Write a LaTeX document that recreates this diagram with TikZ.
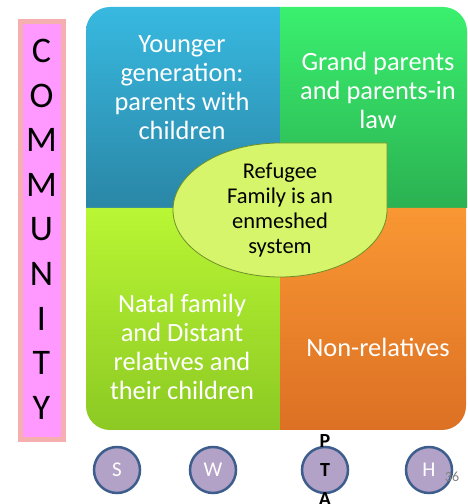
\documentclass[tikz,border=0pt]{standalone}
\usepackage{fontspec}
\setmainfont{Carlito}
\definecolor{pinkbar}{HTML}{FF99FF}
\definecolor{pinkglow}{HTML}{F6AFAF}
\definecolor{bluetop}{HTML}{38B9E0}
\definecolor{bluebot}{HTML}{2A86A6}
\definecolor{greentop}{HTML}{3AF06E}
\definecolor{greenbot}{HTML}{2BB152}
\definecolor{limetop}{HTML}{B9F634}
\definecolor{limebot}{HTML}{8CC923}
\definecolor{orangetop}{HTML}{F99733}
\definecolor{orangebot}{HTML}{DC7024}
\definecolor{tearfill}{HTML}{D6F56A}
\definecolor{teardraw}{HTML}{6E8F2A}
\definecolor{circfill}{HTML}{B3A2C7}
\definecolor{circdraw}{HTML}{3D5E8C}

\begin{document}
\begin{tikzpicture}[x=1pt, y=1pt,
  quadtext/.style={text=white, align=center, font=\fontsize{26.4}{29}\selectfont},
  teartext/.style={text=black, align=center, font=\fontsize{22.5}{25}\selectfont},
  letter/.style={text=black, font=\fontsize{36}{36}\selectfont},
  circ/.style={circle, minimum size=46, inner sep=0, fill=circfill, draw=circdraw, line width=2.5, text=white, font=\fontsize{21}{24}\selectfont}]
	\useasboundingbox (0,0) rectangle (468,504);
	\filldraw[fill=pinkbar, draw=pinkglow, line width=5] (20,64) rectangle (63,482);
	\foreach \l [count=\i from 0] in {C,O,M,M,U,N,I,T,Y}
		\node[letter] (c\i) at (41.5, 453-44.6*\i) {\l};
	\shade[top color=bluetop, bottom color=bluebot] (86,296) -- (86,473) arc[start angle=180, end angle=90, radius=24] -- (280,497) -- (280,296) -- cycle;
	\shade[top color=greentop, bottom color=greenbot] (280,296) -- (280,497) -- (443,497) arc[start angle=90, end angle=0, radius=24] -- (467,296) -- cycle;
	\shade[top color=limetop, bottom color=limebot] (86,296) -- (280,296) -- (280,74) -- (110,74) arc[start angle=270, end angle=180, radius=24] -- cycle;
	\shade[top color=orangetop, bottom color=orangebot] (280,296) -- (466,296) -- (466,98) arc[start angle=0, end angle=-90, radius=24] -- (280,74) -- cycle;
	\node[quadtext] (young) at (182,416) {Younger\\generation:\\parents with\\children};
	\node[quadtext] (grand) at (378,414) {Grand parents\\and parents-in\\law};
	\node[quadtext] (natal) at (182,157) {Natal family\\and Distant\\relatives and\\their children};
	\node[quadtext] (nonrel) at (378,157) {Non-relatives};
	\filldraw[fill=tearfill, draw=teardraw, line width=0.8] (387,294) arc[start angle=0, end angle=-270, x radius=107, y radius=67] -- (387,361) -- cycle;
	\node[teartext] (family) at (280,294) {Refugee\\Family is an\\enmeshed\\system};
	\node[circ] (s) at (117,34) {S};
	\node[circ] (w) at (213,34) {W};
	\node[circ] (t) at (325,34) {};
	\node[circ] (h) at (429,34) {H};
	\node[align=center, font=\bfseries\fontsize{20}{29}\selectfont] (pta) at (t) {P\\T\\A};
	\node[text=gray, font=\fontsize{14}{16}\selectfont] (num) at (452,27) {36};
\end{tikzpicture}
\end{document}
